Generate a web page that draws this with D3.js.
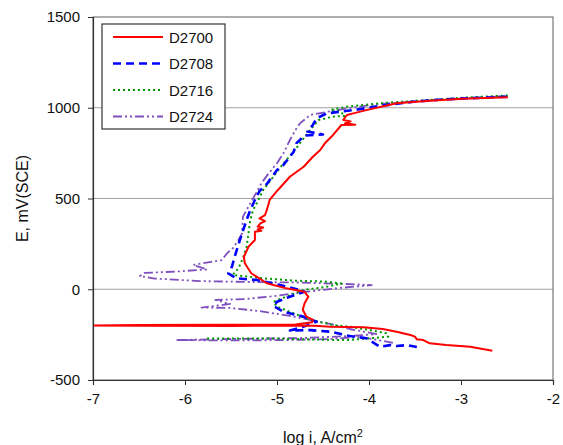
<!DOCTYPE html>
<html>
<head>
<meta charset="utf-8">
<script src="https://cdn.jsdelivr.net/npm/d3@7"></script>
<style>
  body { margin: 0; background: #fff; }
  svg { font-family: "Liberation Sans", Arial, sans-serif; }
  .axis path, .axis line { stroke: #333; }
  .axis text { font-size: 15px; fill: #111; }
</style>
</head>
<body>
<div id="graphicContainer"></div>
<script>
// series names
var seriesNames = ["D2700", "D2708", "D2716", "D2724"];

// tick values
var xTicks = [-7, -6, -5, -4, -3, -2];
var yTicks = [-500, 0, 500, 1000, 1500];
var gridValues = [0, 500, 1000];

// D2700 : log i (A/cm2) and E (mV SCE)
var d2700LogI = [-2.66, -2.90, -3.16, -3.34, -3.41, -3.48, -3.50, -3.55, -3.70, -3.85, -4.06, -4.42, -4.59, -5.5, -6.5, -7.0, -6.5, -5.5, -4.8, -4.62, -4.61, -4.68, -4.72, -4.70, -4.66, -4.70, -4.90, -5.11, -5.28, -5.35, -5.36, -5.31, -5.24, -5.24, -5.17, -5.21, -5.15, -5.21, -5.18, -5.13, -5.19, -5.13, -5.11, -5.08, -4.99, -4.86, -4.71, -4.61, -4.53, -4.48, -4.39, -4.30, -4.15, -4.26, -4.20, -4.28, -4.24, -4.17, -4.03, -3.70, -3.34, -2.98, -2.49];
var d2700E = [-339, -317, -307, -298, -280, -276, -261, -252, -234, -219, -210, -206, -201, -202, -201, -200, -197, -196, -194, -182, -169, -151, -113, -77, -41, -14, 5, 33, 88, 143, 179, 234, 271, 317, 322, 330, 340, 345, 363, 375, 391, 409, 437, 492, 547, 620, 675, 730, 767, 804, 850, 905, 907, 914, 925, 933, 960, 969, 987, 1025, 1039, 1050, 1058];

// D2708
var d2708LogI = [-3.48, -3.59, -3.70, -3.77, -3.88, -4.03, -4.21, -4.42, -4.64, -4.86, -4.75, -4.57, -4.71, -4.93, -5.04, -5.00, -4.86, -4.70, -4.75, -4.97, -5.22, -5.44, -5.53, -5.49, -5.46, -5.42, -5.38, -5.33, -5.29, -5.24, -5.19, -5.11, -5.00, -4.93, -4.82, -4.79, -4.70, -4.50, -4.67, -4.61, -4.57, -4.46, -4.17, -3.88, -3.52, -3.16, -2.79, -2.50];
var d2708E = [-318, -308, -313, -308, -317, -270, -258, -234, -225, -227, -213, -179, -151, -124, -92, -69, -41, -14, -4, 24, 51, 60, 88, 124, 179, 244, 308, 382, 437, 492, 541, 580, 657, 685, 756, 804, 847, 853, 869, 905, 942, 969, 987, 1010, 1033, 1047, 1055, 1061];

// D2716
var d2716LogI = [-5.76, -5.08, -4.42, -4.21, -3.99, -3.79, -3.81, -3.99, -4.21, -4.39, -4.64, -4.82, -5.00, -5.04, -4.90, -4.71, -4.46, -4.30, -4.46, -4.79, -5.15, -5.48, -5.42, -5.37, -5.33, -5.31, -5.29, -5.26, -5.22, -5.15, -5.04, -4.93, -4.82, -4.71, -4.64, -4.55, -4.39, -4.26, -4.32, -4.42, -4.24, -3.88, -3.34, -2.98, -2.48];
var d2716E = [-271, -271, -279, -279, -270, -261, -243, -225, -206, -197, -169, -132, -96, -69, -41, -4, 14, 32, 42, 47, 60, 79, 115, 171, 234, 308, 382, 437, 474, 547, 620, 694, 758, 832, 877, 932, 951, 955, 982, 988, 1006, 1025, 1043, 1055, 1068];

// D2724
var d2724LogI = [-3.74, -3.90, -4.10, -4.42, -4.86, -5.40, -6.10, -5.51, -4.75, -4.21, -3.92, -4.21, -4.46, -4.64, -4.86, -5.19, -5.51, -5.82, -5.51, -5.67, -5.35, -5.02, -4.70, -4.32, -3.97, -4.26, -4.75, -5.29, -5.84, -6.33, -6.49, -6.44, -6.11, -5.76, -5.91, -5.73, -5.60, -5.54, -5.48, -5.42, -5.38, -5.37, -5.29, -5.22, -5.17, -5.09, -5.00, -4.93, -4.86, -4.80, -4.75, -4.64, -4.46, -4.21, -3.88, -3.34, -2.90, -2.49];
var d2724E = [-296, -280, -263, -274, -280, -282, -280, -274, -269, -258, -247, -219, -186, -169, -147, -120, -103, -101, -81, -59, -54, -37, -15, 7, 23, 29, 37, 40, 45, 59, 73, 90, 97, 109, 134, 150, 161, 200, 226, 271, 308, 400, 474, 536, 584, 639, 694, 749, 822, 877, 914, 960, 977, 999, 1021, 1040, 1054, 1065];

var seriesLogI = [d2700LogI, d2708LogI, d2716LogI, d2724LogI];
var seriesE = [d2700E, d2708E, d2716E, d2724E];
var seriesColor = ["#ff0000", "#0000ff", "#009900", "#7f4fbf"];
var seriesDash = [null, "8,5", "2,3", "9,3,2,3,2,3"];
var seriesWidth = [2, 2.6, 2, 1.8];

var margin = { top: 17, right: 10, bottom: 65, left: 93 };
var totalWidth = 563, totalHeight = 445;
var width = totalWidth - margin.left - margin.right;
var height = totalHeight - margin.top - margin.bottom;

var svg = d3.select("#graphicContainer").append("svg")
  .attr("width", totalWidth)
  .attr("height", totalHeight);

var features = svg.append("g")
  .attr("transform", "translate(" + margin.left + "," + margin.top + ")");

var x = d3.scaleLinear().domain([-7, -2]).range([0, width]);
var y = d3.scaleLinear().domain([-500, 1500]).range([height, 0]);

// grid lines
features.selectAll(".grid").data(gridValues).enter().append("line")
  .attr("class", "grid")
  .attr("x1", 0).attr("x2", width)
  .attr("y1", function (d) { return y(d); })
  .attr("y2", function (d) { return y(d); })
  .style("stroke", "#a0a0a0").style("stroke-width", 1.2);

// plot border (top / right)
features.append("rect")
  .attr("x", 0).attr("y", 0).attr("width", width).attr("height", height)
  .style("fill", "none").style("stroke", "#777").style("stroke-width", 1.2);

svg.append("clipPath").attr("id", "clip").append("rect")
  .attr("x", 0).attr("y", 0).attr("width", width).attr("height", height);

var line = d3.line()
  .x(function (d) { return x(d[0]); })
  .y(function (d) { return y(d[1]); });

var plot = features.append("g").attr("clip-path", "url(#clip)");

// draw back to front: purple, green, blue, red
[3, 2, 1, 0].forEach(function (i) {
  var pts = seriesLogI[i].map(function (v, j) { return [v, seriesE[i][j]]; });
  plot.append("path")
    .datum(pts)
    .attr("d", line)
    .style("fill", "none")
    .style("stroke", seriesColor[i])
    .style("stroke-width", seriesWidth[i])
    .style("stroke-dasharray", seriesDash[i])
    .style("stroke-linejoin", "round");
});

var xAxis = d3.axisBottom(x).tickValues(xTicks).tickSize(5).tickPadding(8)
  .tickFormat(function (d) { return d; });
var yAxis = d3.axisLeft(y).tickValues(yTicks).tickSize(5).tickPadding(8)
  .tickFormat(function (d) { return d; });

features.append("g").attr("class", "axis x")
  .attr("transform", "translate(0," + height + ")").call(xAxis);
features.append("g").attr("class", "axis y").call(yAxis);

features.selectAll(".axis path").style("stroke-width", 1.2);
features.selectAll(".axis .tick text").text(function (d) { return String(d).replace("−", "-"); });

// axis titles
var xTitle = svg.append("text")
  .attr("x", margin.left + width / 2)
  .attr("y", 443)
  .attr("text-anchor", "middle")
  .style("font-size", "16px")
  .style("fill", "#111")
  .text("log i, A/cm");
xTitle.append("tspan").attr("dy", -6).style("font-size", "11px").text("2");

svg.append("text")
  .attr("transform", "translate(28," + (margin.top + height / 2) + ") rotate(-90)")
  .attr("text-anchor", "middle")
  .style("font-size", "16px")
  .style("fill", "#111")
  .text("E, mV(SCE)");

// legend
var legend = svg.append("g").attr("transform", "translate(102,24)");
legend.append("rect")
  .attr("width", 123).attr("height", 105)
  .style("fill", "#fff").style("stroke", "#333").style("stroke-width", 1.2);

seriesNames.forEach(function (name, i) {
  var row = legend.append("g").attr("transform", "translate(0," + (13 + i * 26.5) + ")");
  row.append("line")
    .attr("x1", 11).attr("x2", 61).attr("y1", 0).attr("y2", 0)
    .style("stroke", seriesColor[i])
    .style("stroke-width", seriesWidth[i])
    .style("stroke-dasharray", seriesDash[i]);
  row.append("text")
    .attr("x", 67).attr("y", 5.5)
    .style("font-size", "15px")
    .style("fill", "#111")
    .text(name);
});
</script>
</body>
</html>
